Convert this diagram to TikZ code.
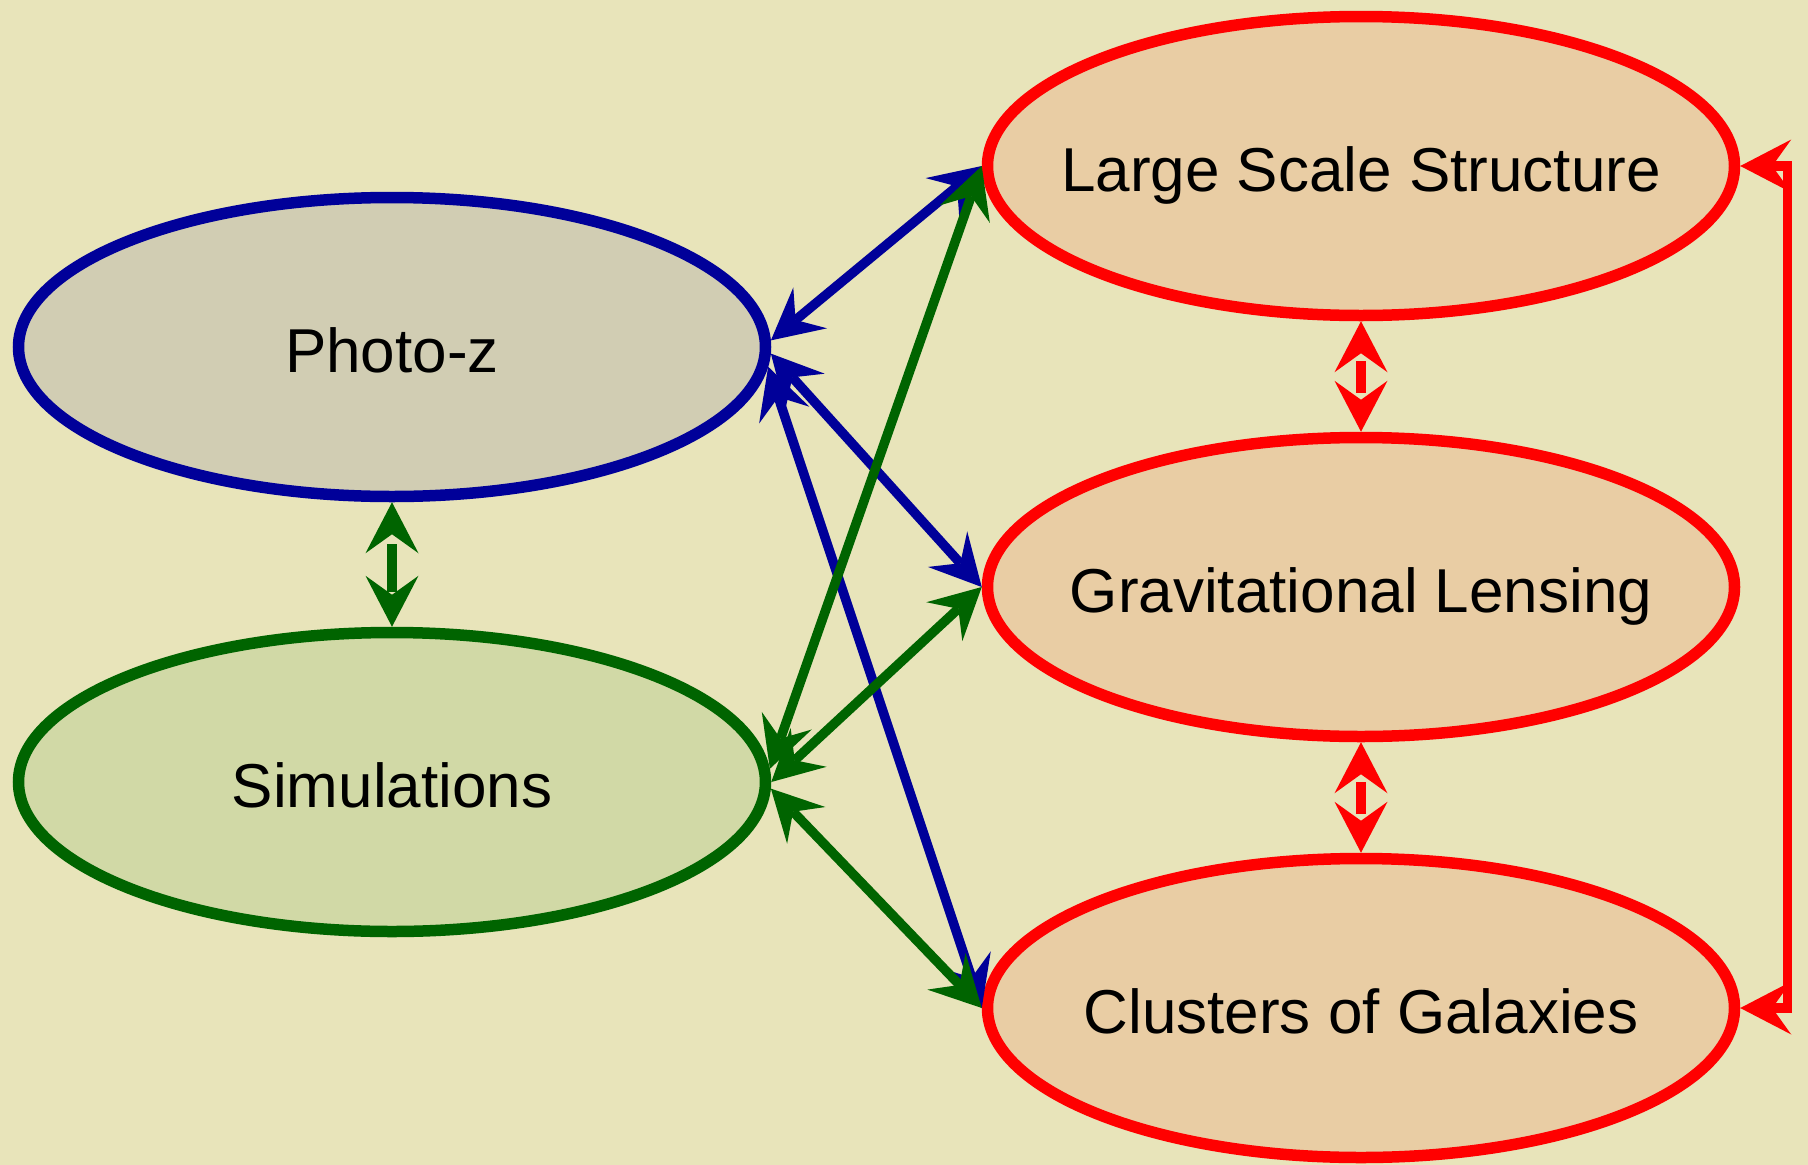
\documentclass[tikz,border=0pt]{standalone}
\usepackage{fontspec}
\setmainfont{Liberation Sans}
\usetikzlibrary{shapes.geometric,arrows.meta}

\definecolor{paper}{HTML}{E8E4BA}
\definecolor{pzfill}{HTML}{D1CDB3}
\definecolor{simfill}{HTML}{D1D9A6}
\definecolor{topicfill}{HTML}{E9CDA4}
\definecolor{navy}{HTML}{000099}
\definecolor{forest}{HTML}{006400}
\definecolor{signal}{HTML}{FF0000}

% zero-width label box with a fixed height, so the ellipse size is set by the
% style alone and every baseline sits the same distance below the centre
\newcommand{\zwlabel}[1]{\makebox[0pt]{\raisebox{0pt}[50pt][0pt]{#1}}}

\tikzset{
  dvee/.tip={Stealth[length=51pt,width=53pt,inset=19pt,line width=0pt]},
  topic/.style={ellipse, line width=11.5pt, minimum width=747pt, minimum height=299pt,
    inner sep=0pt, font=\fontsize{62}{74}\selectfont},
  link/.style={line width=9.5pt, {dvee}-{dvee}},
  bluelink/.style={link, draw=navy},
  greenlink/.style={link, draw=forest},
  redlink/.style={link, draw=signal},
}

\begin{document}
\begin{tikzpicture}[x=1pt,y=-1pt]
  \fill[paper] (0,0) rectangle (1808,1165);
  \useasboundingbox (0,0) rectangle (1808,1165);

  % subjects on the left
  \node[topic, draw=navy,   fill=pzfill]  (pz)  at (392,347)  {\zwlabel{Photo-z}};
  \node[topic, draw=forest, fill=simfill] (sim) at (392,782)  {\zwlabel{Simulations}};

  % probes on the right
  \node[topic, draw=signal, fill=topicfill] (lss) at (1361,166)  {\zwlabel{Large Scale Structure}};
  \node[topic, draw=signal, fill=topicfill] (gl)  at (1361,587)  {\zwlabel{Gravitational Lensing}};
  \node[topic, draw=signal, fill=topicfill] (cg)  at (1361,1008) {\zwlabel{Clusters of Galaxies}};

  % Photo-z links
  \draw[bluelink] (pz.1)  -- (lss.west);
  \draw[bluelink] (pz.-1) -- (gl.west);
  \draw[bluelink] (pz.-3) -- (cg.west);

  % Simulations links
  \draw[greenlink] (sim.2)    -- (lss.west);
  \draw[greenlink] (sim.0.6)  -- (gl.west);
  \draw[greenlink] (sim.-1.2) -- (cg.west);

  % dashed couplings: a single dash centred between the two heads
  \draw[greenlink, dash pattern=on 0pt off 10pt on 48pt off 400pt] (pz.south) -- (sim.north);
  \draw[redlink, dash pattern=on 0pt off 8pt on 32pt off 400pt] (lss.south) -- (gl.north);
  \draw[redlink, dash pattern=on 0pt off 8pt on 32pt off 400pt] (gl.south) -- (cg.north);

  % outer loop between LSS and clusters
  \coordinate (loopTop) at ([xshift=47pt]lss.east);
  \draw[redlink] (lss.east) -- (loopTop) |- (cg.east);
\end{tikzpicture}
\end{document}
